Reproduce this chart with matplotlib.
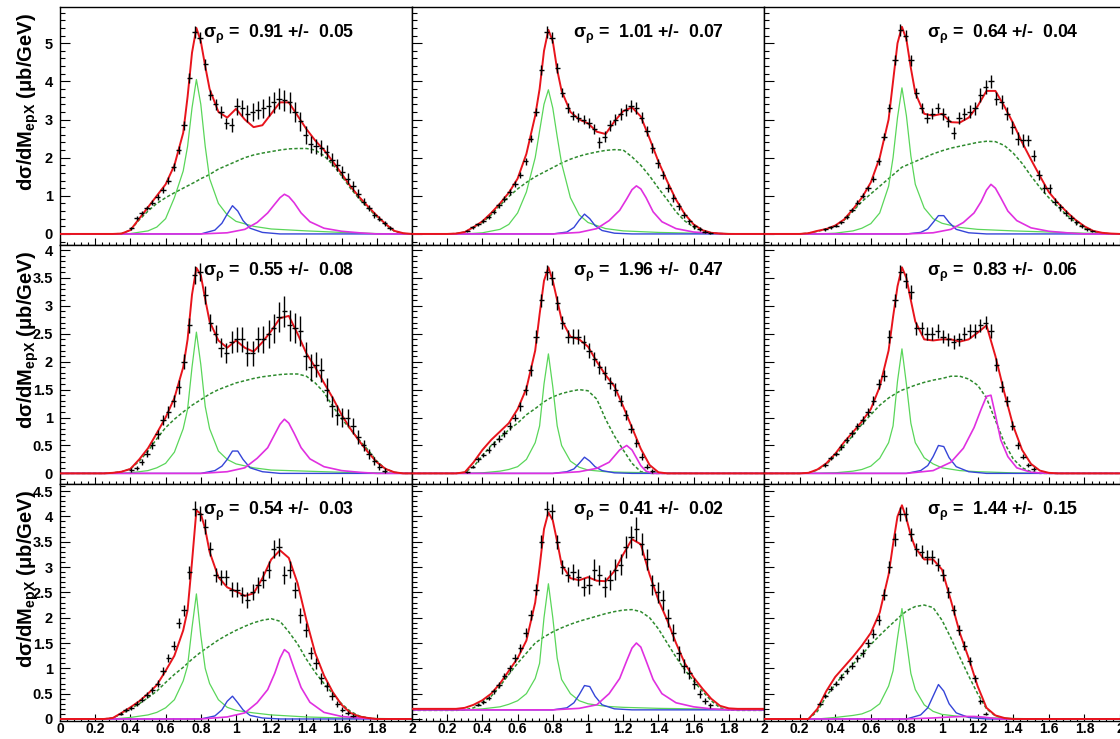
import numpy as np
import matplotlib
matplotlib.use('Agg')
import matplotlib.pyplot as plt
from matplotlib.ticker import MultipleLocator, FuncFormatter

plt.rcParams['font.family'] = ['Liberation Sans', 'DejaVu Sans']
plt.rcParams['font.weight'] = 'bold'
plt.rcParams['mathtext.fontset'] = 'custom'
plt.rcParams['mathtext.rm'] = 'Liberation Sans'
plt.rcParams['mathtext.it'] = 'Liberation Sans'
plt.rcParams['mathtext.bf'] = 'Liberation Sans:bold'

# fitted sigma_rho per panel (row by row)
sigma_rho = ["0.91 +/-  0.05", "1.01 +/-  0.07", "0.64 +/-  0.04",
             "0.55 +/-  0.08", "1.96 +/-  0.47", "0.83 +/-  0.06",
             "0.54 +/-  0.03", "0.41 +/-  0.02", "1.44 +/-  0.15"]

# x grids of the fit curves (GeV)
x_fit = [0, 0.2, 0.25, 0.3, 0.35, 0.4, 0.45, 0.5, 0.55, 0.6,
         0.65, 0.7, 0.725, 0.75, 0.775, 0.8, 0.825, 0.85, 0.9, 0.95,
         1.0, 1.05, 1.1, 1.15, 1.2, 1.25, 1.3, 1.35, 1.4, 1.45,
         1.5, 1.55, 1.6, 1.65, 1.7, 1.75, 1.8, 1.85, 1.9, 1.95, 2.0]
x_rho = [0, 0.3, 0.4, 0.5, 0.55, 0.6, 0.65, 0.7, 0.725, 0.75, 0.775, 0.8,
         0.825, 0.85, 0.9, 0.95, 1.0, 1.1, 1.2, 1.4, 1.6, 1.8, 2.0]
x_f0 = [0, 0.8, 0.88, 0.92, 0.95, 0.98, 1.01, 1.04, 1.08, 1.15, 1.25, 2.0]
x_f2 = [0, 0.8, 0.95, 1.05, 1.12, 1.18, 1.22, 1.25, 1.275, 1.3, 1.33,
        1.37, 1.42, 1.5, 1.6, 1.7, 1.8, 2.0]

# total fit
tot_y = [
    [0, 0, 0, 0, 0.01, 0.1, 0.4, 0.7, 1.0, 1.3, 1.8, 2.65, 3.6, 4.75, 5.4, 5.05, 4.4, 3.8, 3.2, 3.05,
     3.28, 3.0, 2.8, 2.85, 3.15, 3.45, 3.45, 3.1, 2.75, 2.45, 2.2, 1.9, 1.58, 1.25, 0.97, 0.72, 0.48, 0.26, 0.08, 0.02, 0],
    [0, 0, 0.01, 0.05, 0.18, 0.33, 0.55, 0.8, 1.08, 1.45, 2.1, 3.1, 3.8, 4.8, 5.35, 5.05, 4.3, 3.75, 3.2, 3.0,
     2.9, 2.68, 2.62, 2.95, 3.22, 3.32, 3.08, 2.5, 1.9, 1.38, 0.9, 0.52, 0.25, 0.1, 0.03, 0.01, 0, 0, 0, 0, 0],
    [0, 0, 0.02, 0.08, 0.13, 0.22, 0.38, 0.65, 0.95, 1.35, 2.0, 3.0, 4.0, 5.0, 5.43, 5.1, 4.35, 3.7, 3.15, 3.1,
     3.15, 2.93, 2.92, 3.05, 3.35, 3.75, 3.75, 3.35, 2.9, 2.4, 1.95, 1.52, 1.1, 0.82, 0.58, 0.37, 0.2, 0.08, 0.03, 0.01, 0],
    [0, 0, 0, 0.01, 0.03, 0.08, 0.25, 0.45, 0.72, 1.0, 1.35, 1.9, 2.4, 3.2, 3.68, 3.55, 3.12, 2.72, 2.38, 2.25,
     2.38, 2.25, 2.18, 2.35, 2.55, 2.78, 2.82, 2.5, 2.15, 1.9, 1.62, 1.35, 1.05, 0.8, 0.58, 0.38, 0.2, 0.08, 0.02, 0, 0],
    [0, 0, 0, 0.02, 0.2, 0.42, 0.6, 0.75, 0.9, 1.15, 1.52, 2.2, 2.85, 3.45, 3.69, 3.45, 3.1, 2.75, 2.45, 2.4,
     2.27, 2.0, 1.76, 1.56, 1.2, 0.82, 0.44, 0.15, 0.02, 0, 0, 0, 0, 0, 0, 0, 0, 0, 0, 0, 0],
    [0, 0, 0.01, 0.07, 0.18, 0.35, 0.56, 0.74, 0.93, 1.15, 1.55, 2.2, 2.8, 3.35, 3.69, 3.5, 3.1, 2.72, 2.4, 2.38,
     2.4, 2.4, 2.36, 2.4, 2.52, 2.65, 2.1, 1.45, 0.85, 0.42, 0.17, 0.05, 0.01, 0, 0, 0, 0, 0, 0, 0, 0],
    [0, 0, 0, 0.02, 0.12, 0.23, 0.35, 0.5, 0.67, 0.95, 1.25, 1.75, 2.15, 3.1, 4.12, 4.05, 3.75, 3.3, 2.8, 2.6,
     2.52, 2.43, 2.48, 2.78, 3.15, 3.33, 3.18, 2.68, 1.95, 1.3, 0.86, 0.53, 0.28, 0.12, 0.05, 0.02, 0, 0, 0, 0, 0],
    [0.2, 0.2, 0.2, 0.22, 0.28, 0.37, 0.5, 0.7, 0.95, 1.2, 1.55, 2.3, 3.0, 3.75, 4.08, 3.92, 3.5, 3.05, 2.78, 2.74,
     2.8, 2.73, 2.72, 2.92, 3.25, 3.55, 3.45, 2.85, 2.35, 1.95, 1.5, 1.1, 0.82, 0.6, 0.4, 0.26, 0.21, 0.2, 0.2, 0.2, 0.2],
    [0, 0, 0, 0.2, 0.55, 0.83, 1.03, 1.23, 1.45, 1.7, 2.1, 2.85, 3.45, 4.0, 4.22, 3.96, 3.62, 3.38, 3.15, 3.15,
     2.95, 2.34, 1.7, 1.2, 0.65, 0.22, 0.07, 0.02, 0, 0, 0, 0, 0, 0, 0, 0, 0, 0, 0, 0, 0],
]

# non-resonant background
bkg_y = [
    [0, 0, 0, 0, 0.01, 0.1, 0.37, 0.6, 0.8, 0.95, 1.08, 1.2, 1.26, 1.32, 1.38, 1.45, 1.5, 1.56, 1.7, 1.8,
     1.9, 2.0, 2.07, 2.12, 2.16, 2.2, 2.23, 2.24, 2.24, 2.2, 2.05, 1.82, 1.52, 1.2, 0.92, 0.68, 0.45, 0.24, 0.07, 0.01, 0],
    [0, 0, 0.01, 0.05, 0.17, 0.3, 0.5, 0.75, 0.98, 1.18, 1.35, 1.5, 1.56, 1.62, 1.68, 1.74, 1.8, 1.86, 1.96, 2.04,
     2.1, 2.15, 2.19, 2.21, 2.2, 2.02, 1.8, 1.52, 1.2, 0.9, 0.58, 0.34, 0.18, 0.08, 0.03, 0.01, 0, 0, 0, 0, 0],
    [0, 0, 0.02, 0.07, 0.12, 0.2, 0.36, 0.6, 0.85, 1.05, 1.25, 1.45, 1.55, 1.65, 1.75, 1.8, 1.85, 1.9, 2.0, 2.1,
     2.18, 2.25, 2.3, 2.35, 2.4, 2.43, 2.42, 2.32, 2.12, 1.85, 1.52, 1.22, 0.95, 0.72, 0.5, 0.3, 0.15, 0.06, 0.02, 0, 0],
    [0, 0, 0, 0.01, 0.03, 0.08, 0.22, 0.4, 0.62, 0.82, 0.97, 1.1, 1.16, 1.22, 1.27, 1.32, 1.37, 1.42, 1.5, 1.56,
     1.62, 1.66, 1.7, 1.73, 1.75, 1.77, 1.78, 1.78, 1.74, 1.62, 1.45, 1.2, 0.98, 0.79, 0.6, 0.42, 0.22, 0.08, 0.02, 0, 0],
    [0, 0, 0, 0.02, 0.12, 0.32, 0.5, 0.64, 0.78, 0.9, 1.05, 1.16, 1.22, 1.28, 1.33, 1.37, 1.4, 1.43, 1.47, 1.5,
     1.48, 1.33, 0.97, 0.67, 0.42, 0.18, 0.03, 0, 0, 0, 0, 0, 0, 0, 0, 0, 0, 0, 0, 0, 0],
    [0, 0, 0.01, 0.06, 0.16, 0.32, 0.5, 0.68, 0.88, 1.05, 1.22, 1.35, 1.4, 1.45, 1.49, 1.52, 1.55, 1.58, 1.63, 1.67,
     1.7, 1.74, 1.74, 1.69, 1.58, 1.35, 0.95, 0.55, 0.26, 0.1, 0.03, 0, 0, 0, 0, 0, 0, 0, 0, 0, 0],
    [0, 0, 0, 0.02, 0.1, 0.2, 0.3, 0.42, 0.55, 0.72, 0.88, 1.02, 1.1, 1.18, 1.25, 1.32, 1.38, 1.44, 1.56, 1.66,
     1.75, 1.83, 1.9, 1.95, 1.98, 1.93, 1.72, 1.48, 1.18, 0.92, 0.7, 0.5, 0.3, 0.15, 0.06, 0.02, 0, 0, 0, 0, 0],
    [0.17, 0.17, 0.17, 0.18, 0.22, 0.32, 0.45, 0.65, 0.88, 1.1, 1.3, 1.5, 1.56, 1.62, 1.67, 1.72, 1.76, 1.8, 1.87, 1.93,
     1.98, 2.03, 2.08, 2.12, 2.15, 2.16, 2.12, 2.0, 1.78, 1.5, 1.22, 0.97, 0.75, 0.55, 0.36, 0.22, 0.18, 0.17, 0.17, 0.17, 0.17],
    [0, 0, 0, 0.15, 0.45, 0.68, 0.9, 1.08, 1.27, 1.47, 1.65, 1.82, 1.9, 1.98, 2.06, 2.13, 2.18, 2.22, 2.25, 2.2,
     1.95, 1.6, 1.22, 0.85, 0.5, 0.2, 0.06, 0.01, 0, 0, 0, 0, 0, 0, 0, 0, 0, 0, 0, 0, 0],
]

# rho(770) contribution
rho_y = [
    [0, 0, 0.01, 0.08, 0.18, 0.4, 0.95, 1.65, 2.3, 3.3, 4.05, 3.4, 2.3, 1.45, 0.8, 0.5, 0.33, 0.2, 0.13, 0.08, 0.04, 0.01, 0],
    [0, 0, 0.03, 0.12, 0.25, 0.55, 1.1, 2.0, 2.7, 3.4, 3.78, 3.3, 2.55, 1.85, 0.95, 0.5, 0.3, 0.14, 0.08, 0.04, 0.02, 0.01, 0],
    [0, 0, 0.02, 0.08, 0.15, 0.27, 0.55, 1.25, 2.0, 3.05, 3.83, 3.1, 2.05, 1.3, 0.68, 0.4, 0.28, 0.17, 0.12, 0.08, 0.05, 0.02, 0],
    [0, 0, 0.01, 0.05, 0.1, 0.18, 0.38, 0.8, 1.15, 1.9, 2.53, 1.95, 1.2, 0.8, 0.4, 0.25, 0.17, 0.1, 0.06, 0.04, 0.02, 0.01, 0],
    [0, 0, 0.01, 0.04, 0.07, 0.12, 0.25, 0.55, 0.85, 1.6, 2.14, 1.55, 0.85, 0.5, 0.22, 0.11, 0.06, 0.03, 0.02, 0.01, 0, 0, 0],
    [0, 0, 0.01, 0.04, 0.07, 0.13, 0.27, 0.55, 0.85, 1.65, 2.23, 1.6, 0.9, 0.55, 0.28, 0.17, 0.1, 0.05, 0.03, 0.01, 0, 0, 0],
    [0, 0, 0.03, 0.08, 0.13, 0.22, 0.38, 0.75, 1.05, 1.8, 2.47, 1.65, 1.0, 0.7, 0.38, 0.23, 0.17, 0.12, 0.08, 0.04, 0.02, 0.01, 0],
    [0.18, 0.18, 0.2, 0.24, 0.29, 0.36, 0.5, 0.8, 1.1, 2.0, 2.67, 2.0, 1.2, 0.78, 0.5, 0.36, 0.3, 0.25, 0.23, 0.21, 0.2, 0.19, 0.18],
    [0, 0, 0.03, 0.07, 0.1, 0.17, 0.3, 0.65, 0.95, 1.6, 2.18, 1.55, 0.9, 0.58, 0.28, 0.15, 0.09, 0.05, 0.03, 0.01, 0, 0, 0],
]

# f0(980) contribution
f0_y = [
    [0, 0, 0.1, 0.28, 0.52, 0.74, 0.6, 0.35, 0.15, 0.04, 0, 0],
    [0, 0, 0.05, 0.17, 0.36, 0.52, 0.4, 0.22, 0.09, 0.02, 0, 0],
    [0, 0, 0.04, 0.13, 0.3, 0.48, 0.48, 0.3, 0.12, 0.03, 0, 0],
    [0, 0, 0.05, 0.13, 0.25, 0.4, 0.4, 0.25, 0.1, 0.03, 0, 0],
    [0, 0, 0.03, 0.08, 0.18, 0.29, 0.22, 0.12, 0.05, 0.01, 0, 0],
    [0, 0, 0.05, 0.14, 0.3, 0.5, 0.48, 0.28, 0.12, 0.03, 0, 0],
    [0, 0, 0.06, 0.18, 0.35, 0.45, 0.32, 0.18, 0.07, 0.02, 0, 0],
    [0.18, 0.18, 0.22, 0.32, 0.48, 0.66, 0.64, 0.45, 0.28, 0.2, 0.18, 0.18],
    [0, 0, 0.08, 0.22, 0.45, 0.68, 0.55, 0.3, 0.12, 0.03, 0, 0],
]

# f2(1270) contribution
f2_y = [
    [0, 0, 0.03, 0.12, 0.3, 0.55, 0.78, 0.95, 1.04, 0.98, 0.82, 0.55, 0.32, 0.15, 0.07, 0.03, 0, 0],
    [0, 0, 0.04, 0.14, 0.35, 0.62, 0.92, 1.16, 1.26, 1.18, 0.95, 0.58, 0.32, 0.14, 0.05, 0.02, 0, 0],
    [0, 0, 0.03, 0.12, 0.3, 0.55, 0.85, 1.15, 1.3, 1.2, 0.95, 0.6, 0.35, 0.16, 0.07, 0.03, 0, 0],
    [0, 0, 0.03, 0.1, 0.27, 0.46, 0.7, 0.88, 0.97, 0.9, 0.72, 0.46, 0.26, 0.12, 0.05, 0.02, 0, 0],
    [0, 0, 0.03, 0.09, 0.2, 0.42, 0.5, 0.42, 0.28, 0.14, 0.04, 0, 0, 0, 0, 0, 0, 0],
    [0, 0, 0.05, 0.2, 0.45, 0.82, 1.15, 1.38, 1.4, 1.05, 0.6, 0.3, 0.1, 0.02, 0, 0, 0, 0],
    [0, 0, 0.04, 0.12, 0.32, 0.58, 0.9, 1.2, 1.37, 1.3, 1.0, 0.62, 0.33, 0.13, 0.05, 0.02, 0, 0],
    [0.18, 0.18, 0.21, 0.28, 0.5, 0.8, 1.15, 1.4, 1.5, 1.42, 1.15, 0.78, 0.5, 0.32, 0.24, 0.2, 0.18, 0.18],
    [0, 0, 0.02, 0.04, 0.05, 0.05, 0.04, 0.03, 0.02, 0.01, 0, 0, 0, 0, 0, 0, 0, 0],
]

# measured cross section: first bin centre, then (value, error) per 30 MeV bin
bin_w = 0.03
data_first = [0.405, 0.315, 0.345, 0.405, 0.315, 0.345, 0.345, 0.375, 0.315]
data_pts = [
    [(0.15, .04), (0.42, .05), (0.55, .06), (0.68, .06), (0.82, .07), (0.97, .07), (1.15, .08), (1.4, .09), (1.75, .1), (2.2, .1),
     (2.85, .12), (4.1, .13), (5.3, .15), (5.15, .15), (4.45, .14), (3.65, .13), (3.4, .14), (3.2, .15), (2.9, .15), (2.85, .18),
     (3.35, .22), (3.3, .22), (3.15, .22), (3.2, .23), (3.25, .24), (3.3, .25), (3.35, .26), (3.45, .27), (3.55, .28), (3.5, .28),
     (3.45, .27), (3.2, .26), (2.95, .25), (2.6, .24), (2.35, .22), (2.3, .2), (2.25, .2), (2.15, .18), (1.95, .17), (1.8, .16),
     (1.62, .15), (1.45, .14), (1.25, .13), (1.05, .12), (0.85, .1), (0.68, .09), (0.5, .08), (0.4, .07), (0.28, .06), (0.15, .05)],
    [(0.08, .03), (0.17, .04), (0.25, .04), (0.33, .05), (0.45, .05), (0.58, .06), (0.75, .06), (0.92, .07), (1.1, .07), (1.3, .08),
     (1.55, .08), (1.9, .09), (2.5, .1), (3.2, .11), (4.3, .13), (5.3, .15), (5.15, .15), (4.35, .13), (3.7, .12), (3.3, .12),
     (3.1, .12), (3.05, .12), (3.0, .13), (2.9, .13), (2.75, .13), (2.4, .14), (2.55, .14), (2.85, .15), (3.0, .15), (3.15, .15),
     (3.25, .15), (3.35, .15), (3.3, .15), (3.05, .14), (2.7, .13), (2.25, .13), (1.85, .12), (1.55, .11), (1.2, .1), (0.95, .1),
     (0.72, .09), (0.5, .08), (0.33, .07), (0.2, .06), (0.12, .05), (0.06, .04), (0.03, .03)],
    [(0.12, .03), (0.18, .04), (0.22, .04), (0.3, .05), (0.45, .05), (0.63, .06), (0.82, .06), (1.0, .07), (1.2, .07), (1.45, .08),
     (1.9, .09), (2.55, .1), (3.3, .11), (4.55, .13), (5.35, .15), (5.2, .15), (4.55, .14), (3.7, .13), (3.3, .13), (3.05, .13),
     (3.15, .14), (3.3, .14), (3.15, .15), (2.95, .15), (2.65, .15), (3.05, .16), (3.15, .16), (3.2, .17), (3.3, .17), (3.65, .18),
     (3.85, .18), (4.0, .18), (3.55, .18), (3.45, .18), (3.15, .17), (2.8, .17), (2.5, .16), (2.45, .16), (2.45, .15), (2.05, .14),
     (1.55, .13), (1.2, .12), (1.2, .12), (0.85, .1), (0.7, .09), (0.55, .08), (0.42, .07), (0.3, .06), (0.2, .05), (0.12, .04),
     (0.07, .03)],
    [(0.06, .03), (0.1, .04), (0.2, .05), (0.35, .06), (0.5, .07), (0.7, .08), (0.95, .09), (1.1, .1), (1.3, .11), (1.55, .12),
     (2.0, .13), (2.65, .14), (3.55, .16), (3.6, .16), (3.2, .16), (2.7, .15), (2.5, .16), (2.25, .17), (2.15, .18), (2.35, .2),
     (2.4, .22), (2.4, .22), (2.15, .22), (2.15, .22), (2.4, .23), (2.4, .24), (2.5, .25), (2.6, .26), (2.8, .27), (2.9, .28),
     (2.65, .28), (2.6, .27), (2.55, .26), (2.1, .25), (1.9, .24), (1.95, .23), (1.85, .22), (1.5, .2), (1.2, .19), (1.05, .18),
     (1.0, .17), (1.0, .16), (0.85, .14), (0.65, .12), (0.5, .1), (0.35, .09), (0.22, .07), (0.12, .06), (0.05, .04)],
    [(0.03, .02), (0.12, .03), (0.25, .04), (0.33, .04), (0.42, .05), (0.53, .05), (0.62, .06), (0.72, .06), (0.85, .07), (1.0, .07),
     (1.2, .08), (1.5, .09), (1.85, .1), (2.45, .11), (3.1, .12), (3.6, .13), (3.5, .13), (3.05, .12), (2.7, .12), (2.45, .12),
     (2.45, .13), (2.45, .13), (2.35, .13), (2.2, .13), (2.05, .12), (1.9, .12), (1.8, .12), (1.62, .11), (1.5, .11), (1.3, .1),
     (1.05, .09), (0.8, .08), (0.55, .07), (0.3, .06), (0.12, .04), (0.04, .03)],
    [(0.15, .03), (0.28, .04), (0.35, .04), (0.47, .05), (0.6, .05), (0.72, .06), (0.85, .06), (0.95, .07), (1.1, .07), (1.3, .08),
     (1.6, .09), (1.75, .1), (2.45, .11), (3.1, .12), (3.6, .13), (3.45, .13), (3.25, .12), (2.6, .12), (2.6, .12), (2.5, .12),
     (2.5, .12), (2.55, .12), (2.45, .12), (2.4, .12), (2.35, .12), (2.4, .12), (2.5, .12), (2.55, .12), (2.55, .12), (2.65, .12),
     (2.7, .12), (2.55, .12), (1.95, .11), (1.55, .1), (1.3, .09), (0.85, .08), (0.5, .06), (0.3, .05), (0.15, .04), (0.08, .03)],
    [(0.1, .03), (0.17, .04), (0.22, .04), (0.3, .05), (0.38, .05), (0.47, .06), (0.57, .06), (0.7, .07), (0.95, .08), (1.2, .08),
     (1.45, .09), (1.9, .1), (2.15, .11), (2.9, .13), (4.15, .15), (4.05, .15), (3.8, .14), (3.35, .14), (2.85, .14), (2.8, .15),
     (2.8, .15), (2.55, .15), (2.55, .15), (2.45, .15), (2.35, .15), (2.5, .16), (2.65, .16), (2.75, .17), (2.95, .17), (3.35, .18),
     (3.4, .18), (2.85, .18), (2.95, .17), (2.55, .16), (2.05, .15), (1.75, .14), (1.3, .12), (1.1, .11), (0.8, .1), (0.65, .09),
     (0.45, .08), (0.3, .06), (0.18, .05), (0.12, .04), (0.06, .03)],
    [(0.28, .03), (0.33, .04), (0.42, .04), (0.55, .05), (0.68, .06), (0.85, .06), (1.0, .07), (1.2, .08), (1.4, .08), (1.7, .09),
     (2.05, .1), (2.55, .11), (3.5, .13), (4.15, .15), (4.1, .15), (3.5, .14), (3.0, .14), (2.85, .15), (2.9, .16), (2.8, .17),
     (2.6, .18), (2.65, .19), (2.95, .2), (2.85, .2), (2.6, .2), (2.75, .2), (2.95, .21), (3.05, .21), (3.4, .22), (3.6, .22),
     (3.75, .23), (3.45, .22), (3.15, .21), (2.65, .2), (2.5, .2), (2.35, .19), (2.0, .18), (1.7, .17), (1.3, .15), (1.05, .14),
     (0.9, .12), (0.7, .1), (0.5, .08), (0.35, .06), (0.27, .05)],
    [(0.3, .03), (0.45, .04), (0.6, .05), (0.7, .05), (0.82, .06), (0.95, .06), (1.05, .07), (1.2, .07), (1.3, .08), (1.5, .08),
     (1.68, .09), (1.95, .1), (2.45, .11), (3.0, .12), (3.55, .13), (4.05, .14), (4.05, .14), (3.65, .13), (3.35, .13), (3.3, .13),
     (3.2, .13), (3.2, .13), (3.05, .12), (2.85, .12), (2.5, .11), (2.15, .1), (1.75, .1), (1.45, .09), (1.15, .08), (0.8, .07),
     (0.35, .05), (0.1, .03)],
]

# pad geometry in pixels of a 1120x739 canvas
W, H = 1120, 739
col_x = [60, 412, 764]
col_w = [352, 352, 356]
row_y = [7, 245, 484]
row_h = [238, 239, 237]
row_ylim = [(-0.29, 5.95), (-0.19, 4.09), (-0.04, 4.64)]
row_major = [1.0, 0.5, 0.5]
row_minor = [0.2, 0.1, 0.1]

ytitle = "d\u03c3/dM$_{\\mathbf{epX}}$ (\u03bcb/GeV)"

fig = plt.figure(figsize=(W / 100, H / 100), dpi=100)
fig.patch.set_facecolor('white')

for k in range(9):
    r, c = divmod(k, 3)
    ax = fig.add_axes([col_x[c] / W, 1 - (row_y[r] + row_h[r]) / H,
                       col_w[c] / W, row_h[r] / H])
    ax.set_xlim(0, 2)
    ax.set_ylim(*row_ylim[r])

    ax.plot(x_fit, bkg_y[k], color='#2e8b2e', lw=1.1, ls=(0, (2.2, 1.4)), zorder=2)
    ax.plot(x_rho, rho_y[k], color='#5ad65a', lw=0.9, zorder=2)
    ax.plot(x_f0, f0_y[k], color='#3545d8', lw=1.0, zorder=2)
    ax.plot(x_f2, f2_y[k], color='#e030e0', lw=1.2, zorder=2)
    ax.plot(x_fit, tot_y[k], color='#e8141c', lw=1.4, zorder=3)

    pts = np.array(data_pts[k])
    xs = data_first[k] + bin_w * np.arange(len(pts))
    ax.errorbar(xs, pts[:, 0], yerr=pts[:, 1], xerr=bin_w / 2, fmt='none',
                ecolor='black', elinewidth=1.0, capsize=0, zorder=4)

    tx = 0.81 if c == 0 else 0.915
    ax.text(tx, 0.87, "\u03c3$_{\\rho}$ =  " + sigma_rho[k],
            transform=ax.get_xaxis_transform(), fontsize=12.7,
            fontweight='bold', ha='left', va='baseline')

    # ROOT-like frame: inward ticks on left and bottom
    ax.xaxis.set_major_locator(MultipleLocator(0.2))
    ax.xaxis.set_minor_locator(MultipleLocator(0.04))
    ax.yaxis.set_major_locator(MultipleLocator(row_major[r]))
    ax.yaxis.set_minor_locator(MultipleLocator(row_minor[r]))
    ax.tick_params(which='both', direction='in', top=False, right=False,
                   width=0.8, labelsize=10.5)
    ax.tick_params(axis='y', which='major', length=7.5, pad=5)
    ax.tick_params(axis='y', which='minor', length=3.8)
    ax.tick_params(axis='x', which='major', length=5, pad=1, labelsize=10)
    ax.tick_params(axis='x', which='minor', length=2.5)
    for sp in ax.spines.values():
        sp.set_linewidth(1.0)
    if c == 2:
        ax.spines['right'].set_visible(False)

    if c == 0:
        ax.yaxis.set_major_formatter(FuncFormatter(lambda v, p: f"{v:g}"))
    else:
        ax.set_yticklabels([])
    if r == 2:
        if c == 0:
            ax.xaxis.set_major_formatter(FuncFormatter(lambda v, p: f"{v:g}"))
        else:
            ax.xaxis.set_major_formatter(
                FuncFormatter(lambda v, p: "" if abs(v) < 1e-9 else f"{v:g}"))
    else:
        ax.set_xticklabels([])

for r in range(3):
    fig.text(28 / W, 1 - (row_y[r] + 6) / H, ytitle, rotation=90,
             ha='center', va='top', fontsize=14.5, fontweight='bold')

fig.savefig('out.png', dpi=100)
